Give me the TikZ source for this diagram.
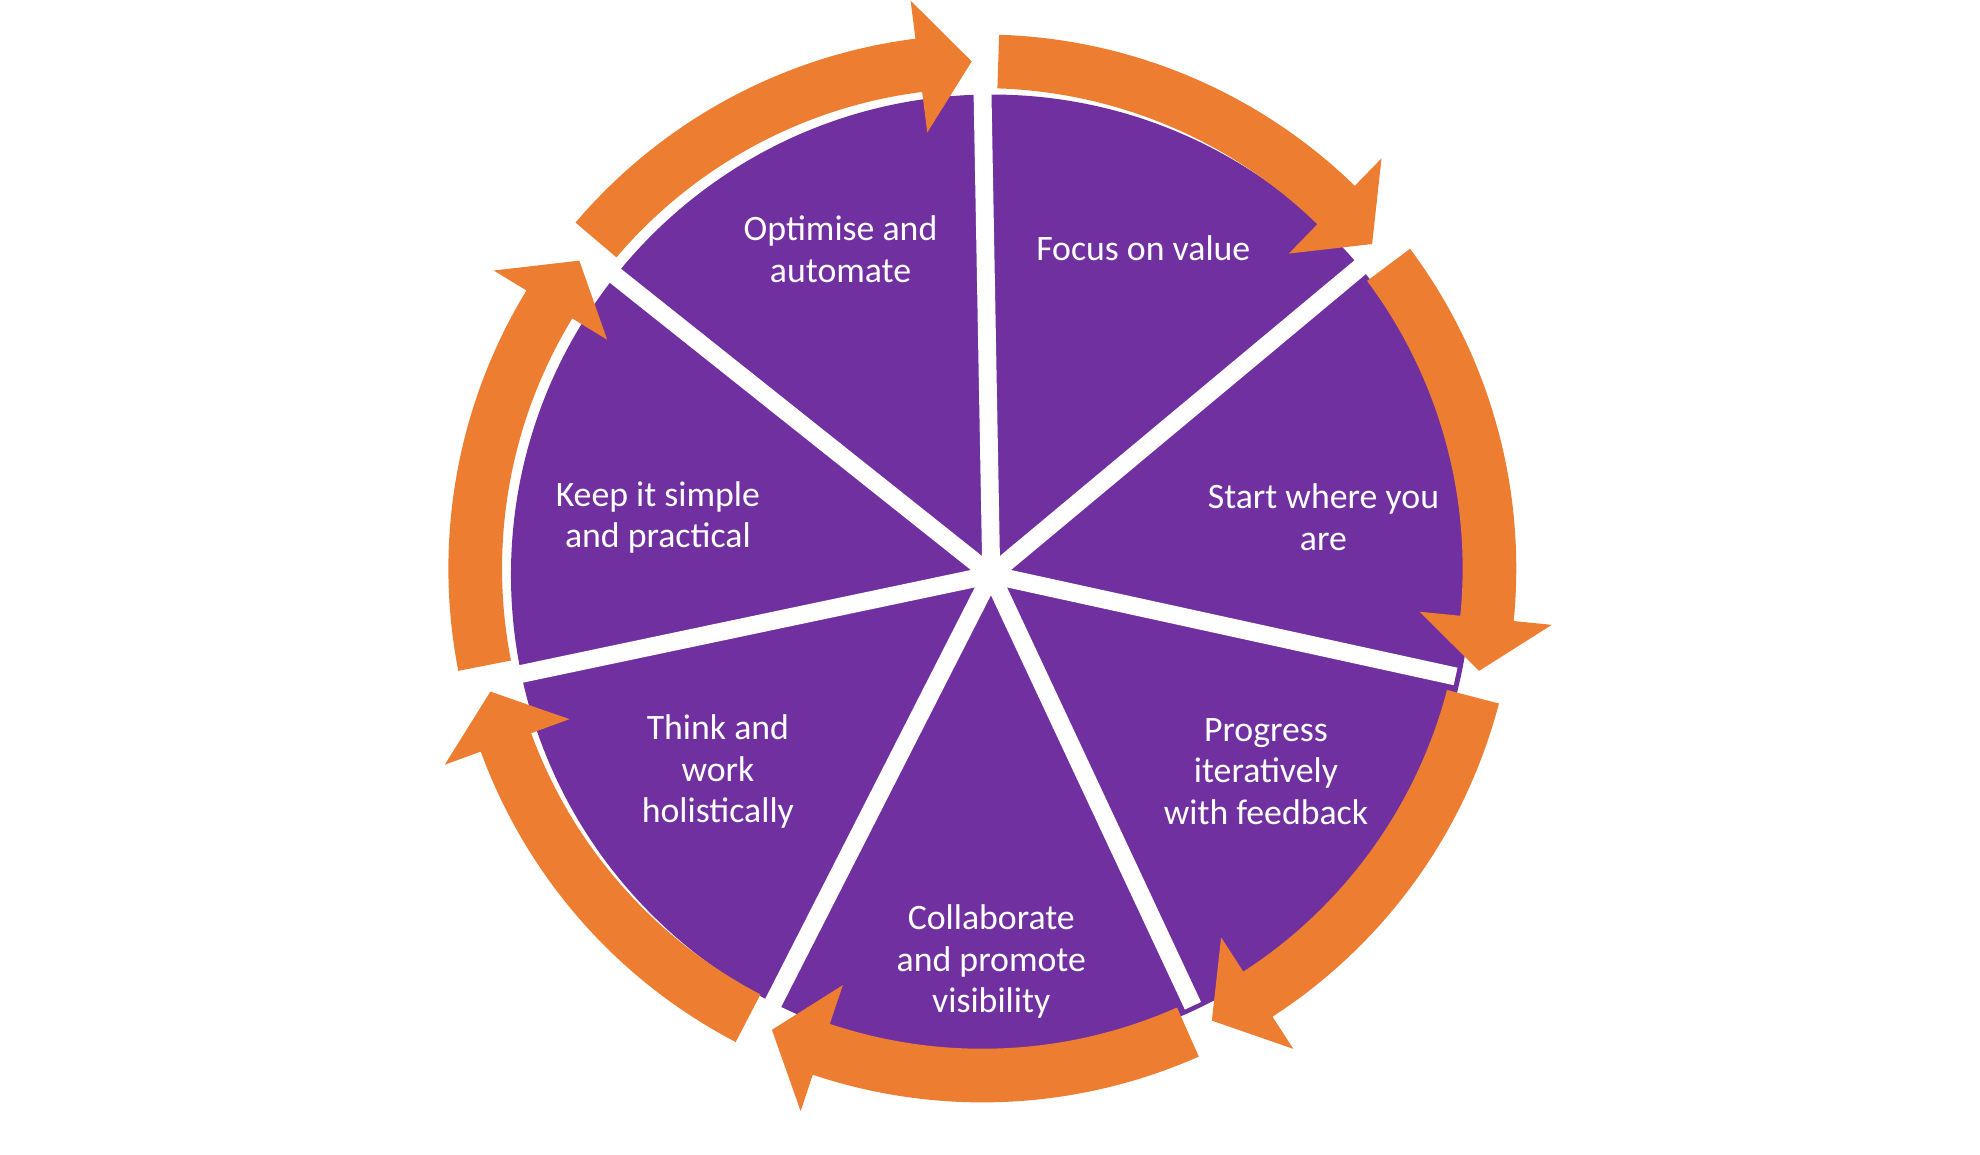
\documentclass[tikz,border=0pt]{standalone}
\usepackage{fontspec}
\setmainfont{Carlito}
\definecolor{pur}{HTML}{7030A0}
\definecolor{ora}{HTML}{ED7D31}
\begin{document}
\begin{tikzpicture}[x=1pt,y=1pt,
  lab/.style={text=white,align=center,font=\fontsize{28}{32.5}\selectfont}]
\useasboundingbox (0,0) rectangle (1550,904);
\begin{scope}[shift={(-7,5)}]
\coordinate (c) at (783,449);
\fill[pur] (c) circle[radius=376pt];
\foreach \k in {0,...,6}{
  \pgfmathsetmacro{\a}{90-\k*360/7}
  \draw[white,line width=14pt] (c) -- ([shift={(c)}]\a:380pt);
}
\foreach \k in {0,...,6}{
  \pgfmathsetmacro{\s}{90-\k*360/7-1.8}
  \pgfmathsetmacro{\e}{90-(\k+1)*360/7+1.2}
  \pgfmathsetmacro{\b}{\e+6}
  \fill[ora] ([shift={(c)}]\s:418pt) arc[start angle=\s,end angle=\b,radius=418pt]
    -- ([shift={(c)}]\b:448pt) -- ([shift={(c)}]\e:397pt) -- ([shift={(c)}]\b:344pt)
    -- ([shift={(c)}]\b:376pt) arc[start angle=\b,end angle=\s,radius=376pt] -- cycle;
}
\node[lab] (t1) at (665,704) {Optimise and\\automate};
\node[lab] (t2) at (902,705) {Focus on value};
\node[lab] (t3) at (1043,494) {Start where you\\are};
\node[lab] (t4) at (998,295) {Progress\\iteratively\\with feedback};
\node[lab] (t5) at (783,146) {Collaborate\\and promote\\visibility};
\node[lab] (t6) at (569,295) {Think and\\work\\holistically};
\node[lab] (t7) at (522,494) {Keep it simple\\and practical};
\end{scope}
\end{tikzpicture}
\end{document}
